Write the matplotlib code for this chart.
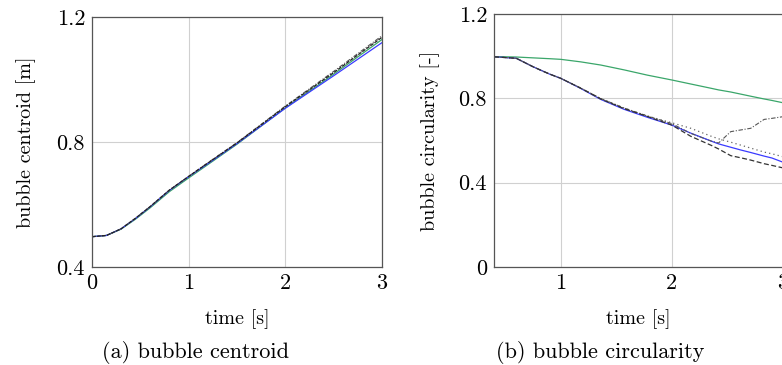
import numpy as np
import matplotlib
matplotlib.use("Agg")
import matplotlib.pyplot as plt

plt.rcParams['font.family'] = 'serif'
plt.rcParams['font.serif'] = ['cmr10', 'DejaVu Serif']
plt.rcParams['axes.formatter.use_mathtext'] = True
plt.rcParams['mathtext.fontset'] = 'cm'

# (a) bubble centroid
t_a = [0.0, 0.15, 0.3, 0.45, 0.6, 0.8, 1.0, 1.2, 1.5, 2.0, 2.5, 3.0]
cen_blue = [0.497, 0.501, 0.522, 0.555, 0.592, 0.645, 0.689, 0.731, 0.795, 0.908, 1.012, 1.118]
cen_green = [0.497, 0.501, 0.521, 0.553, 0.589, 0.641, 0.685, 0.728, 0.793, 0.909, 1.017, 1.128]
cen_dashed = [0.497, 0.501, 0.522, 0.556, 0.593, 0.646, 0.690, 0.733, 0.797, 0.913, 1.022, 1.135]
cen_dashdot = [0.497, 0.501, 0.522, 0.556, 0.593, 0.646, 0.690, 0.734, 0.798, 0.915, 1.026, 1.14]

# (b) bubble circularity
t_b = [0.4, 0.6, 0.75, 0.9, 1.0, 1.18, 1.36, 1.57, 1.78, 2.0, 2.17, 2.35, 2.42, 2.53, 2.62, 2.71, 2.83, 2.9, 3.0]
circ_green = [0.998, 0.996, 0.992, 0.988, 0.985, 0.973, 0.958, 0.935, 0.91, 0.887, 0.868, 0.848, 0.84, 0.83, 0.82, 0.81, 0.797, 0.79, 0.779]
circ_blue = [0.997, 0.99, 0.95, 0.915, 0.895, 0.847, 0.795, 0.748, 0.71, 0.673, 0.635, 0.598, 0.584, 0.568, 0.555, 0.543, 0.526, 0.517, 0.497]
circ_dashed = [0.997, 0.99, 0.95, 0.915, 0.895, 0.848, 0.797, 0.751, 0.714, 0.673, 0.62, 0.578, 0.56, 0.528, 0.518, 0.507, 0.49, 0.482, 0.47]
circ_dotted = [0.997, 0.99, 0.95, 0.915, 0.895, 0.849, 0.799, 0.754, 0.716, 0.684, 0.658, 0.621, 0.608, 0.592, 0.578, 0.564, 0.545, 0.537, 0.523]
circ_dashdot = [0.997, 0.99, 0.95, 0.915, 0.895, 0.849, 0.799, 0.754, 0.716, 0.68, 0.634, 0.598, 0.588, 0.642, 0.65, 0.658, 0.70, 0.705, 0.713]

green = "#3aa66a"
blue = "#3a3aff"
grid_c = "#d0d0d0"

fig = plt.figure(figsize=(7.82, 3.65), dpi=100)
W, H = 782, 365

# axes rectangles in pixels
ax1 = fig.add_axes([92 / W, 1 - 267 / H, (382 - 92) / W, (267 - 17) / H])
ax2 = fig.add_axes([494 / W, 1 - 267 / H, (783 - 494) / W, (267 - 14) / H])

ax1.plot(t_a, cen_green, color=green, lw=0.9)
ax1.plot(t_a, cen_blue, color=blue, lw=0.9)
ax1.plot(t_a, cen_dashdot, color="#555555", lw=0.8, ls=(0, (4, 1.5, 1, 1.5)))
ax1.plot(t_a, cen_dashed, color="#222222", lw=0.9, ls=(0, (3, 1)))
ax1.set_xlim(0, 3)
ax1.set_ylim(0.4, 1.2)
ax1.set_xticks([0, 1, 2, 3])
ax1.set_yticks([0.4, 0.8, 1.2])
ax1.set_xticklabels(["0", "1", "2", "3"])
ax1.set_yticklabels(["0.4", "0.8", "1.2"])
ax1.set_xlabel("time [s]", fontsize=14.5, labelpad=11)
ax1.set_ylabel("bubble centroid [m]", fontsize=14.5, labelpad=15)

ax2.plot(t_b, circ_green, color=green, lw=0.9)
ax2.plot(t_b, circ_blue, color=blue, lw=0.9)
ax2.plot(t_b, circ_dotted, color="#666666", lw=0.9, ls=(0, (1, 2.5)))
ax2.plot(t_b, circ_dashdot, color="#555555", lw=0.8, ls=(0, (4, 1.5, 1, 1.5)))
ax2.plot(t_b, circ_dashed, color="#333333", lw=0.9, ls=(0, (4, 2)))
ax2.set_xlim(0.4, 3)
ax2.set_ylim(0, 1.2)
ax2.set_xticks([1, 2, 3])
ax2.set_yticks([0, 0.4, 0.8, 1.2])
ax2.set_xticklabels(["1", "2", "3"])
ax2.set_yticklabels(["0", "0.4", "0.8", "1.2"])
ax2.set_xlabel("time [s]", fontsize=14.5, labelpad=11)
ax2.set_ylabel("bubble circularity [-]", fontsize=14.5, labelpad=13)

for ax in (ax1, ax2):
    ax.grid(True, color=grid_c, lw=0.8)
    ax.set_axisbelow(True)
    ax.tick_params(labelsize=16, length=0, pad=5)
    for s in ax.spines.values():
        s.set_color("#555555")
        s.set_linewidth(0.9)

fig.text(196 / W, 1 - 352 / H, "(a) bubble centroid", ha="center", va="center", fontsize=16)
fig.text(600 / W, 1 - 352 / H, "(b) bubble circularity", ha="center", va="center", fontsize=16)

fig.savefig("out.png", dpi=100)
